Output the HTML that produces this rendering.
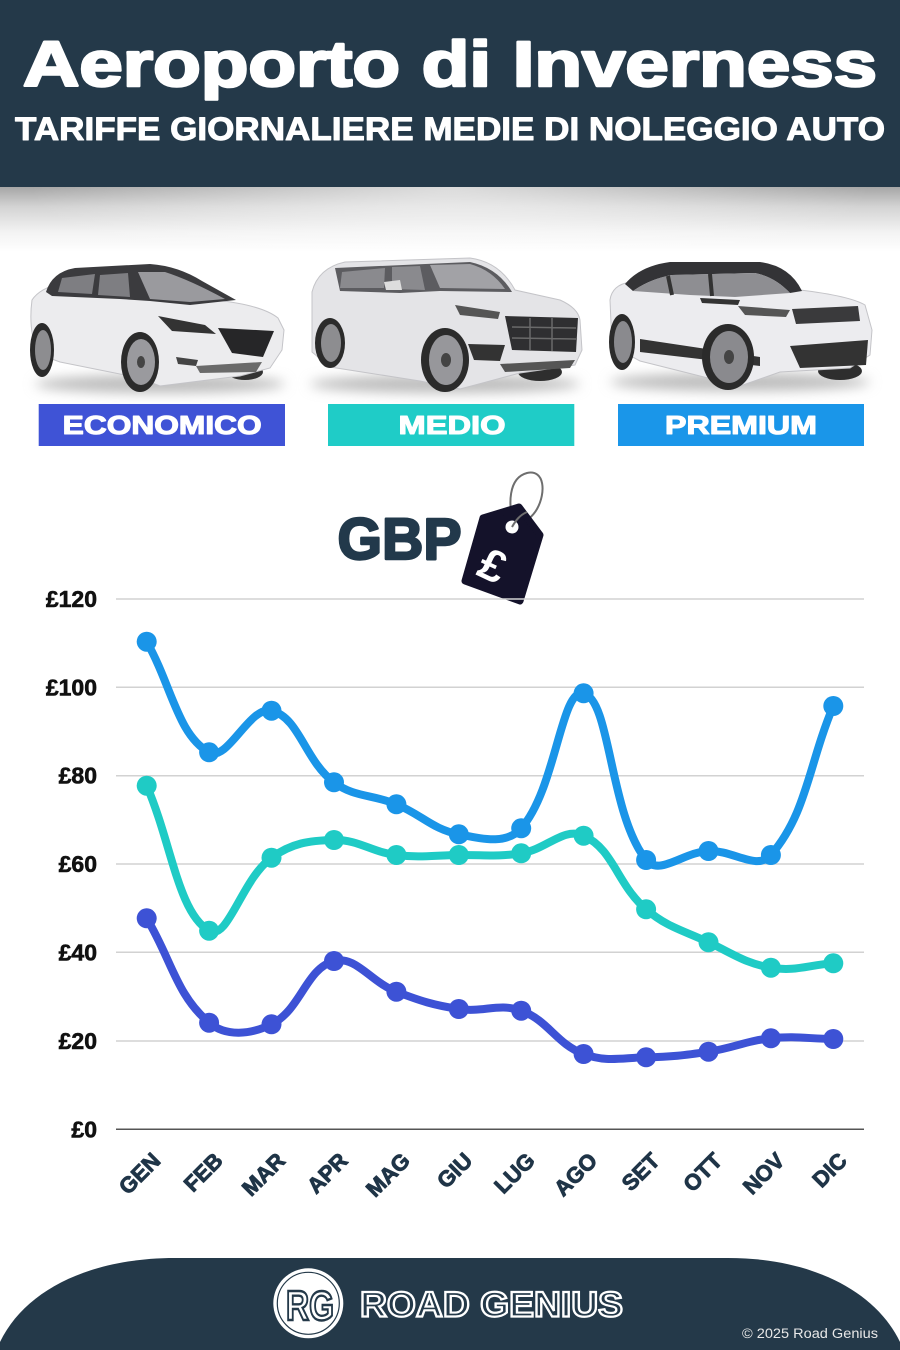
<!DOCTYPE html>
<html>
<head>
<meta charset="utf-8">
<style>
  html,body{margin:0;padding:0;background:#fff;}
  body{width:900px;height:1350px;overflow:hidden;}
  svg{display:block;}
  text{font-family:"Liberation Sans", Arial, sans-serif;}
</style>
</head>
<body>
<svg width="900" height="1350" viewBox="0 0 900 1350" xmlns="http://www.w3.org/2000/svg">
  <defs>
    <linearGradient id="shade" x1="0" y1="0" x2="0" y2="1">
      <stop offset="0" stop-color="#a6a6a6"/>
      <stop offset="0.3" stop-color="#d3d3d3"/>
      <stop offset="0.7" stop-color="#f3f3f3"/>
      <stop offset="1" stop-color="#ffffff"/>
    </linearGradient>
    <radialGradient id="shadeR" cx="450" cy="187" r="420" gradientUnits="userSpaceOnUse" gradientTransform="translate(450 187) scale(1 0.25) translate(-450 -187)">
      <stop offset="0" stop-color="#ffffff" stop-opacity="0.6"/>
      <stop offset="1" stop-color="#ffffff" stop-opacity="0"/>
    </radialGradient>
    <filter id="blur" x="-20%" y="-200%" width="140%" height="500%">
      <feGaussianBlur stdDeviation="6"/>
    </filter>
  </defs>

  <!-- Header -->
  <rect x="0" y="0" width="900" height="187" fill="#243949"/>
  <text x="23" y="86" font-size="64" font-weight="bold" fill="#fff" stroke="#fff" stroke-width="2.6" stroke-linejoin="round" textLength="854" lengthAdjust="spacingAndGlyphs">Aeroporto di Inverness</text>
  <text x="15" y="140" font-size="32.5" font-weight="bold" fill="#fff" stroke="#fff" stroke-width="1" stroke-linejoin="round" textLength="870" lengthAdjust="spacingAndGlyphs">TARIFFE GIORNALIERE MEDIE DI NOLEGGIO AUTO</text>
  <rect x="0" y="187" width="900" height="65" fill="url(#shade)"/>
  <rect x="0" y="187" width="900" height="65" fill="url(#shadeR)"/>

  <!-- Car shadows -->
  <ellipse cx="160" cy="384" rx="125" ry="9" fill="#bcbcbc" filter="url(#blur)"/>
  <ellipse cx="445" cy="384" rx="135" ry="9" fill="#bcbcbc" filter="url(#blur)"/>
  <ellipse cx="740" cy="382" rx="130" ry="9" fill="#bcbcbc" filter="url(#blur)"/>

  <!-- Car 1: Economy -->
  <g>
    <ellipse cx="245" cy="372" rx="18" ry="8" fill="#333"/>
    <path d="M32,300 Q40,288 60,284 L140,288 L215,300 Q262,305 278,318 L284,330 L282,350 L270,368 L240,376 L160,386 L140,378 L60,362 L38,354 Q28,330 32,300 Z" fill="#ececee" stroke="#c4c4c8" stroke-width="1"/>
    <path d="M46,292 Q52,272 75,268 L150,264 Q178,266 202,281 L236,300 L190,305 L150,301 L120,299 L52,296 Z" fill="#3b3b3e"/>
    <path d="M58,292 L62,278 L95,274 L92,294 Z" fill="#7e7e82"/>
    <path d="M100,275 L128,273 L130,297 L98,295 Z" fill="#7e7e82"/>
    <path d="M138,272 L165,272 Q190,280 225,299 L190,302 L150,299 Z" fill="#9a9a9e"/>
    <path d="M158,316 L205,325 L216,334 L172,331 Z" fill="#333"/>
    <path d="M218,328 L274,331 L263,357 L232,353 Z" fill="#262628"/>
    <path d="M176,357 L198,360 L196,366 L178,364 Z" fill="#444"/>
    <path d="M196,366 L262,362 L256,372 L200,373 Z" fill="#6a6a6a"/>
    <ellipse cx="42" cy="350" rx="12" ry="27" fill="#2b2b2b"/>
    <ellipse cx="43" cy="350" rx="8" ry="20" fill="#8d8d90"/>
    <ellipse cx="140" cy="362" rx="19" ry="30" fill="#2b2b2b"/>
    <ellipse cx="141" cy="362" rx="14" ry="23" fill="#9a9a9e"/>
    <ellipse cx="141" cy="362" rx="4" ry="6" fill="#444"/>
  </g>

  <!-- Car 2: Medio -->
  <g>
    <ellipse cx="540" cy="372" rx="22" ry="9" fill="#2e2e2e"/>
    <path d="M312,292 Q318,268 345,262 L470,258 Q500,262 515,290 L560,300 Q578,308 580,320 L582,350 L575,365 L520,373 L460,389 L420,381 L330,367 L312,352 Z" fill="#e4e4e7" stroke="#c4c4c8" stroke-width="1"/>
    <path d="M335,268 L470,262 Q498,268 512,292 L440,291 L400,293 L340,291 Z" fill="#5c5c60"/>
    <path d="M342,272 L385,268 L384,288 L340,288 Z" fill="#8a8a8e"/>
    <path d="M392,267 L420,266 L425,290 L392,289 Z" fill="#8a8a8e"/>
    <path d="M430,265 L470,264 Q492,270 505,289 L440,288 Z" fill="#a2a2a6"/>
    <path d="M384,282 L400,280 L402,290 L386,290 Z" fill="#ddd"/>
    <path d="M455,305 L500,312 L498,319 L460,315 Z" fill="#555"/>
    <path d="M505,316 L578,318 L576,352 L512,350 Z" fill="#2f2f31"/>
    <path d="M512,327 L576,328 M512,338 L576,339 M530,318 L530,350 M552,318 L552,351" stroke="#6a6a6a" stroke-width="1.5"/>
    <path d="M468,344 L505,345 L500,361 L474,360 Z" fill="#333"/>
    <path d="M500,364 L575,360 L570,368 L505,372 Z" fill="#555"/>
    <ellipse cx="330" cy="343" rx="15" ry="25" fill="#2b2b2b"/>
    <ellipse cx="331" cy="343" rx="10" ry="19" fill="#8d8d90"/>
    <ellipse cx="445" cy="360" rx="24" ry="32" fill="#2b2b2b"/>
    <ellipse cx="446" cy="360" rx="17" ry="25" fill="#97979b"/>
    <ellipse cx="446" cy="360" rx="5" ry="7" fill="#444"/>
  </g>

  <!-- Car 3: Premium -->
  <g>
    <ellipse cx="840" cy="371" rx="22" ry="9" fill="#2e2e2e"/>
    <path d="M610,300 Q612,285 630,282 L700,272 L800,290 Q850,296 865,305 L872,330 L870,355 L850,368 L780,372 L740,386 L700,376 L640,361 L612,346 Z" fill="#ececef" stroke="#c4c4c8" stroke-width="1"/>
    <path d="M625,284 Q640,266 670,262 L760,262 Q790,266 802,291 L790,293 Q775,277 755,273 L672,275 Q650,279 633,291 Z" fill="#333336"/>
    <path d="M633,291 Q650,279 672,275 L755,273 Q775,277 790,293 L735,297 L690,295 Z" fill="#8e8e92"/>
    <path d="M668,276 L672,295 M710,274 L712,296" stroke="#333" stroke-width="4"/>
    <path d="M700,298 L740,300 L738,305 L702,303 Z" fill="#333"/>
    <path d="M738,306 L790,310 L786,317 L745,315 Z" fill="#555"/>
    <path d="M792,309 L858,306 L860,321 L796,324 Z" fill="#3a3a3c"/>
    <path d="M790,346 L868,340 L866,365 L800,368 Z" fill="#333"/>
    <path d="M640,339 L760,357 L760,366 L640,352 Z" fill="#333"/>
    <ellipse cx="622" cy="342" rx="13" ry="28" fill="#2b2b2b"/>
    <ellipse cx="623" cy="342" rx="9" ry="21" fill="#8a8a8e"/>
    <ellipse cx="728" cy="357" rx="26" ry="33" fill="#2b2b2b"/>
    <ellipse cx="729" cy="357" rx="19" ry="26" fill="#8a8a8e"/>
    <ellipse cx="729" cy="357" rx="5" ry="7" fill="#444"/>
  </g>

  <!-- Legend boxes -->
  <g font-size="26" font-weight="bold" fill="#fff" stroke="#fff" stroke-width="1.1" stroke-linejoin="round">
    <rect x="38.7" y="404" width="246.3" height="42" fill="#3F53D6" stroke="none"/>
    <text x="62.7" y="434" textLength="199" lengthAdjust="spacingAndGlyphs">ECONOMICO</text>
    <rect x="328" y="404" width="246.3" height="42" fill="#1FCCC7" stroke="none"/>
    <text x="398.5" y="434" textLength="107" lengthAdjust="spacingAndGlyphs">MEDIO</text>
    <rect x="618" y="404" width="246" height="42" fill="#1A96E9" stroke="none"/>
    <text x="665" y="434" textLength="152" lengthAdjust="spacingAndGlyphs">PREMIUM</text>
  </g>

  <!-- GBP + tag -->
  <text x="337.5" y="559" font-size="58" font-weight="bold" fill="#22394b" stroke="#22394b" stroke-width="2.4" stroke-linejoin="round" textLength="124" lengthAdjust="spacingAndGlyphs">GBP</text>
  <path d="M514,525 C508,505 508,478 527,473 C545,469 546,493 537,509 C532,518 522,524 516,527" fill="none" stroke="#6e6e6e" stroke-width="2"/>
  <polygon points="483,518 519,507 540,535 520,601 465,581" fill="#14122a" stroke="#14122a" stroke-width="7" stroke-linejoin="round"/>
  <circle cx="512" cy="527" r="6.5" fill="#fff"/>
  <path d="M512,527 C516,520 520,515 527,512" fill="none" stroke="#6e6e6e" stroke-width="2"/>
  <text x="0" y="16" font-size="45" font-weight="bold" fill="#fff" text-anchor="middle" transform="translate(493 565) rotate(25)">£</text>

  <!-- Grid -->
  <g stroke="#d2d2d2" stroke-width="1.5">
    <line x1="116" y1="599" x2="864" y2="599"/>
    <line x1="116" y1="687.3" x2="864" y2="687.3"/>
    <line x1="116" y1="775.7" x2="864" y2="775.7"/>
    <line x1="116" y1="864" x2="864" y2="864"/>
    <line x1="116" y1="952.3" x2="864" y2="952.3"/>
    <line x1="116" y1="1041" x2="864" y2="1041"/>
  </g>
  <line x1="116" y1="1129.3" x2="864" y2="1129.3" stroke="#555" stroke-width="1.5"/>

  <g font-size="23" font-weight="bold" fill="#111" stroke="#111" stroke-width="0.6" text-anchor="end">
    <text x="97" y="607">£120</text>
    <text x="97" y="695.3">£100</text>
    <text x="97" y="783.7">£80</text>
    <text x="97" y="872">£60</text>
    <text x="97" y="960.3">£40</text>
    <text x="97" y="1049">£20</text>
    <text x="97" y="1137.3">£0</text>
  </g>

  <!-- Series -->
  <g fill="none" stroke-width="8" stroke-linejoin="round" stroke-linecap="round">
    <path id="s0" stroke="#3D52D5" d="M146.7,918.3 L209.1,1022.7 L271.5,1024.3 L334,961 L396.4,991.7 L458.8,1009 L521.2,1010.7 L583.6,1054 L646.1,1057.3 L708.5,1051.7 L770.9,1038.3 L833.3,1039"/>
    <path id="s1" stroke="#1FCBC5" d="M146.7,785.7 L209.1,930.7 L271.5,857.7 L334,840 L396.4,855 L458.8,855 L521.2,853.3 L583.6,835.7 L646.1,909.3 L708.5,942.3 L770.9,967.7 L833.3,963.3"/>
    <path id="s2" stroke="#1A95E8" d="M146.7,641.7 L209.1,752.3 L271.5,710.7 L334,782.3 L396.4,804.3 L458.8,834.3 L521.2,828.3 L583.6,693.3 L646.1,860 L708.5,851 L770.9,855 L833.3,706"/>
  </g>
  <g fill="#3D52D5">
    <circle cx="146.7" cy="918.3" r="10"/><circle cx="209.1" cy="1022.7" r="10"/><circle cx="271.5" cy="1024.3" r="10"/><circle cx="334" cy="961" r="10"/><circle cx="396.4" cy="991.7" r="10"/><circle cx="458.8" cy="1009" r="10"/><circle cx="521.2" cy="1010.7" r="10"/><circle cx="583.6" cy="1054" r="10"/><circle cx="646.1" cy="1057.3" r="10"/><circle cx="708.5" cy="1051.7" r="10"/><circle cx="770.9" cy="1038.3" r="10"/><circle cx="833.3" cy="1039" r="10"/>
  </g>
  <g fill="#1FCBC5">
    <circle cx="146.7" cy="785.7" r="10"/><circle cx="209.1" cy="930.7" r="10"/><circle cx="271.5" cy="857.7" r="10"/><circle cx="334" cy="840" r="10"/><circle cx="396.4" cy="855" r="10"/><circle cx="458.8" cy="855" r="10"/><circle cx="521.2" cy="853.3" r="10"/><circle cx="583.6" cy="835.7" r="10"/><circle cx="646.1" cy="909.3" r="10"/><circle cx="708.5" cy="942.3" r="10"/><circle cx="770.9" cy="967.7" r="10"/><circle cx="833.3" cy="963.3" r="10"/>
  </g>
  <g fill="#1A95E8">
    <circle cx="146.7" cy="641.7" r="10"/><circle cx="209.1" cy="752.3" r="10"/><circle cx="271.5" cy="710.7" r="10"/><circle cx="334" cy="782.3" r="10"/><circle cx="396.4" cy="804.3" r="10"/><circle cx="458.8" cy="834.3" r="10"/><circle cx="521.2" cy="828.3" r="10"/><circle cx="583.6" cy="693.3" r="10"/><circle cx="646.1" cy="860" r="10"/><circle cx="708.5" cy="851" r="10"/><circle cx="770.9" cy="855" r="10"/><circle cx="833.3" cy="706" r="10"/>
  </g>

  <!-- Month labels -->
  <g font-size="22" font-weight="bold" fill="#1f3447" stroke="#1f3447" stroke-width="0.9" stroke-linejoin="round" text-anchor="end">
    <text transform="translate(161.7 1162) rotate(-45)">GEN</text>
    <text transform="translate(224.1 1162) rotate(-45)">FEB</text>
    <text transform="translate(286.5 1162) rotate(-45)">MAR</text>
    <text transform="translate(349 1162) rotate(-45)">APR</text>
    <text transform="translate(411.4 1162) rotate(-45)">MAG</text>
    <text transform="translate(473.8 1162) rotate(-45)">GIU</text>
    <text transform="translate(536.2 1162) rotate(-45)">LUG</text>
    <text transform="translate(598.6 1162) rotate(-45)">AGO</text>
    <text transform="translate(661.1 1162) rotate(-45)">SET</text>
    <text transform="translate(723.5 1162) rotate(-45)">OTT</text>
    <text transform="translate(785.9 1162) rotate(-45)">NOV</text>
    <text transform="translate(848.3 1162) rotate(-45)">DIC</text>
  </g>

  <!-- Footer -->
  <path d="M0,1342 C25,1290 90,1258 175,1258 L728,1258 C810,1258 875,1290 900,1342 L900,1350 L0,1350 Z" fill="#243949"/>
  <circle cx="308.3" cy="1303.3" r="35" fill="#fff"/>
  <circle cx="308.3" cy="1303.3" r="31" fill="none" stroke="#243949" stroke-width="1.2"/>
  <text x="286" y="1320" font-size="42" font-weight="bold" fill="#fff" stroke="#243949" stroke-width="2.4" textLength="48" lengthAdjust="spacingAndGlyphs">RG</text>
  <text x="360" y="1316.7" font-size="35" font-weight="bold" fill="#243949" stroke="#fff" stroke-width="2.2" textLength="263" lengthAdjust="spacingAndGlyphs">ROAD GENIUS</text>
  <text x="878" y="1338" font-size="13.5" fill="#e8e8e8" text-anchor="end" textLength="136" lengthAdjust="spacingAndGlyphs">© 2025 Road Genius</text>
</svg>
<script>
(function(){
  var X=[146.7,209.1,271.5,334.0,396.4,458.8,521.2,583.6,646.1,708.5,770.9,833.3];
  var Y=[
    [918.3,1022.7,1024.3,961,991.7,1009,1010.7,1054,1057.3,1051.7,1038.3,1039],
    [785.7,930.7,857.7,840,855,855,853.3,835.7,909.3,942.3,967.7,963.3],
    [641.7,752.3,710.7,782.3,804.3,834.3,828.3,693.3,860,851,855,706]
  ];
  var t=0.4;
  function dist(a,b){return Math.sqrt((a[0]-b[0])*(a[0]-b[0])+(a[1]-b[1])*(a[1]-b[1]));}
  for(var s=0;s<3;s++){
    var p=X.map(function(x,i){return [x,Y[s][i]];});
    var n=p.length, cpPrev=[], cpNext=[];
    for(var i=0;i<n;i++){
      var prev=p[i-1]||p[i], cur=p[i], next=p[i+1]||p[i];
      var d01=dist(prev,cur), d12=dist(cur,next);
      var s01=d01/(d01+d12), s12=d12/(d01+d12);
      if(isNaN(s01))s01=0; if(isNaN(s12))s12=0;
      var fa=t*s01, fb=t*s12;
      cpPrev[i]=[cur[0]-fa*(next[0]-prev[0]),cur[1]-fa*(next[1]-prev[1])];
      cpNext[i]=[cur[0]+fb*(next[0]-prev[0]),cur[1]+fb*(next[1]-prev[1])];
    }
    var d='M'+p[0][0]+','+p[0][1];
    for(var k=0;k<n-1;k++){
      d+=' C'+cpNext[k][0].toFixed(1)+','+cpNext[k][1].toFixed(1)+' '+cpPrev[k+1][0].toFixed(1)+','+cpPrev[k+1][1].toFixed(1)+' '+p[k+1][0]+','+p[k+1][1];
    }
    document.getElementById('s'+s).setAttribute('d',d);
  }
})();
</script>
</body>
</html>
